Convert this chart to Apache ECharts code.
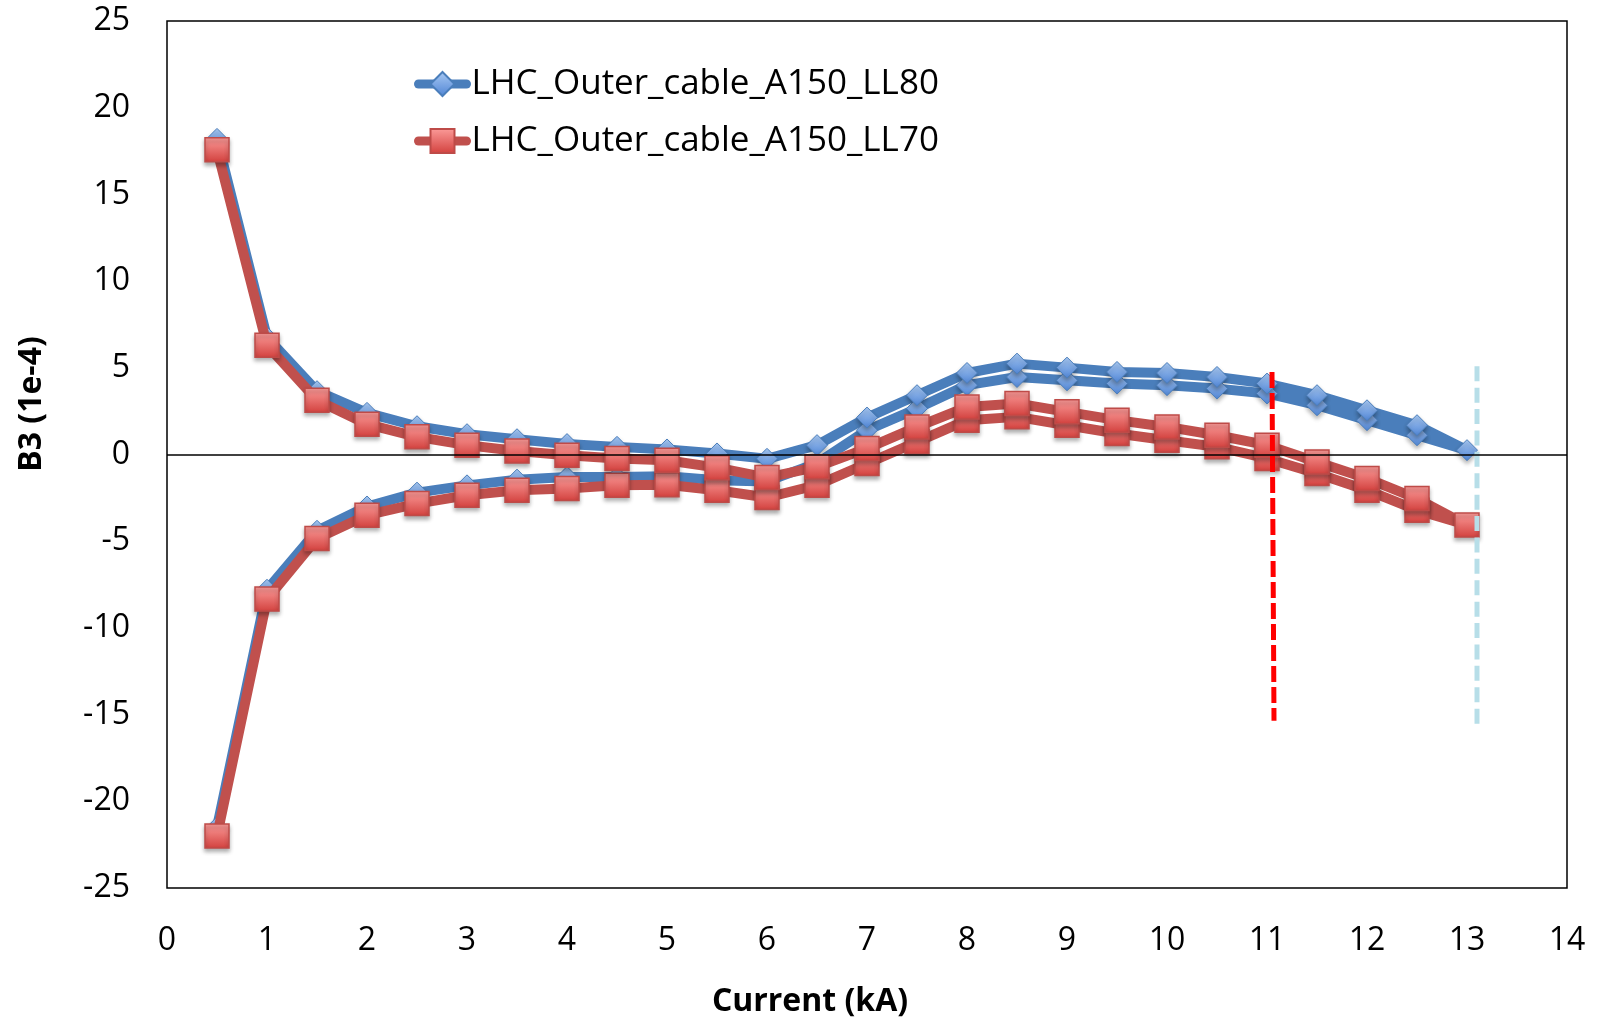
<!DOCTYPE html>
<html>
<head>
<meta charset="utf-8">
<title>B3 vs Current</title>
<script src="https://cdn.jsdelivr.net/npm/echarts@6/dist/echarts.min.js"></script>
<style>
    html, body { margin: 0; padding: 0; background: #fff; }
    #lineChart { width: 1600px; height: 1022px; }
</style>
</head>
<body>
<div id="lineChart"></div>
<script>
// current steps (kA), same for both ramps
var currentKA = [0.5, 1, 1.5, 2, 2.5, 3, 3.5, 4, 4.5, 5, 5.5, 6, 6.5,
                 7, 7.5, 8, 8.5, 9, 9.5, 10, 10.5, 11, 11.5, 12, 12.5, 13];

// B3 (1e-4) for LL80, lower and upper branch of the loop
var ll80Up = [-21.5, -7.8, -4.4, -3.0, -2.2, -1.78, -1.45, -1.3, -1.3, -1.25, -1.48, -1.55, -0.5,
              1.4, 2.65, 4.0, 4.47, 4.28, 4.09, 4.0, 3.8, 3.52, 2.84, 1.98, 1.11, 0.25];
var ll80Down = [18.2, 6.75, 3.65, 2.4, 1.63, 1.17, 0.88, 0.6, 0.44, 0.29, 0.06, -0.25, 0.54,
                2.13, 3.42, 4.7, 5.24, 5.01, 4.76, 4.7, 4.47, 4.09, 3.42, 2.55, 1.69, 0.25];

// B3 (1e-4) for LL70
var ll70Up = [-22.0, -8.34, -4.84, -3.5, -2.83, -2.35, -2.06, -1.96, -1.77, -1.75, -2.06, -2.48, -1.77,
              -0.52, 0.73, 1.98, 2.17, 1.69, 1.21, 0.82, 0.44, -0.23, -1.1, -2.06, -3.21, -4.07];
var ll70Down = [17.58, 6.3, 3.13, 1.75, 1.02, 0.54, 0.2, -0.04, -0.23, -0.33, -0.76, -1.33, -0.71,
                0.35, 1.59, 2.74, 2.94, 2.46, 1.98, 1.59, 1.11, 0.54, -0.43, -1.38, -2.54, -4.07];

// the two dashed marker lines (x, y pairs)
var redMarker = [[11.05, 4.76], [11.07, -15.35]];
var cyanMarker = [[13.1, 5.09], [13.1, -15.55]];

var seriesNames = ["LHC_Outer_cable_A150_LL80", "LHC_Outer_cable_A150_LL70"];

// up the lower branch, then back down the upper one
function loopPoints(up, down) {
    var pts = [];
    for (var i = 0; i < currentKA.length; i++) {
        pts.push([currentKA[i], up[i]]);
    }
    for (var j = currentKA.length - 2; j >= 0; j--) {
        pts.push([currentKA[j], down[j]]);
    }
    return pts;
}

var chartDom = document.getElementById("lineChart");
var myChart = echarts.init(chartDom);

var font = "'Open Sans', 'Liberation Sans', sans-serif";

var option = {
    animation: false,
    backgroundColor: "#fff",
    textStyle: { fontFamily: font, color: "#000" },
    grid: {
        left: 167,
        top: 21,
        width: 1400,
        height: 867,
        show: true,
        borderColor: "#000",
        borderWidth: 1.5,
        backgroundColor: "#fff",
    },
    legend: {
        data: seriesNames,
        orient: "vertical",
        left: 409,
        top: 60,
        itemWidth: 48,
        itemHeight: 30,
        itemGap: 19,
        lineStyle: { width: 9, cap: "round" },
        textStyle: { fontSize: 35, lineHeight: 38, color: "#000", fontFamily: font },
    },
    xAxis: {
        type: "value",
        min: 0,
        max: 14,
        interval: 1,
        axisLine: { show: false },
        axisTick: { show: false },
        splitLine: { show: false },
        axisLabel: { fontSize: 32, color: "#000", margin: 37, fontFamily: font },
    },
    yAxis: {
        type: "value",
        min: -25,
        max: 25,
        interval: 5,
        axisLine: { show: false },
        axisTick: { show: false },
        splitLine: { show: false },
        axisLabel: { fontSize: 32, color: "#000", margin: 37, fontFamily: font },
    },
    graphic: [
        {
            type: "text",
            x: 810,
            y: 1002,
            style: {
                text: "Current (kA)",
                font: "bold 32px " + font,
                fill: "#000",
                textAlign: "center",
                textVerticalAlign: "middle",
            },
        },
        {
            type: "text",
            x: 32,
            y: 404,
            rotation: Math.PI / 2,
            style: {
                text: "B3 (1e-4)",
                font: "bold 32px " + font,
                fill: "#000",
                textAlign: "center",
                textVerticalAlign: "middle",
            },
        },
    ],
    series: [
        {
            // horizontal zero line, under the data
            type: "line",
            z: 1,
            data: [],
            markLine: {
                silent: true,
                symbol: "none",
                label: { show: false },
                lineStyle: { color: "#000", width: 1.5, type: "solid" },
                data: [{ yAxis: 0 }],
            },
        },
        {
            name: seriesNames[0],
            type: "line",
            z: 2,
            data: loopPoints(ll80Up, ll80Down),
            symbol: "diamond",
            symbolSize: 21,
            lineStyle: { color: "#4a7ebb", width: 10, join: "round", cap: "round" },
            itemStyle: {
                color: new echarts.graphic.LinearGradient(0, 0, 0, 1, [
                    { offset: 0, color: "#a9caf4" },
                    { offset: 1, color: "#4f84d4" },
                ]),
                borderColor: "#4a7ebb",
                borderWidth: 1,
                shadowBlur: 4,
                shadowOffsetY: 3,
                shadowColor: "rgba(0,0,0,0.3)",
            },
        },
        {
            name: seriesNames[1],
            type: "line",
            z: 3,
            data: loopPoints(ll70Up, ll70Down),
            symbol: "rect",
            symbolSize: 24,
            lineStyle: { color: "#c0504d", width: 10, join: "round", cap: "round" },
            itemStyle: {
                color: new echarts.graphic.LinearGradient(0, 0, 0, 1, [
                    { offset: 0, color: "#fc9c9a" },
                    { offset: 1, color: "#d2403d" },
                ]),
                borderColor: "#be4b48",
                borderWidth: 1.5,
                shadowBlur: 4,
                shadowOffsetY: 3,
                shadowColor: "rgba(0,0,0,0.3)",
            },
        },
        {
            type: "line",
            z: 4,
            data: redMarker,
            symbol: "none",
            silent: true,
            lineStyle: { color: "#ff0000", width: 5, type: [16, 5] },
        },
        {
            type: "line",
            z: 4,
            data: cyanMarker,
            symbol: "none",
            silent: true,
            lineStyle: { color: "#b7dee8", width: 5, type: [15, 6.4] },
        },
    ],
};

option && myChart.setOption(option);
</script>
</body>
</html>
